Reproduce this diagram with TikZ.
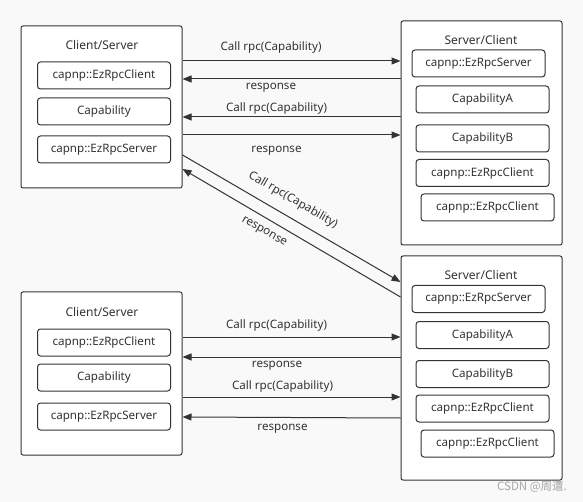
\documentclass[tikz,border=0pt]{standalone}
\usepackage{fontspec}
\setmainfont{Noto Sans}
\newfontfamily\cjk{Noto Sans CJK SC}
\usetikzlibrary{arrows.meta}
\definecolor{ink}{RGB}{51,51,51}
\definecolor{bg}{RGB}{249,249,249}
\tikzset{
  outer/.style={draw=ink,fill=white,rounded corners=2pt,line width=1pt,inner sep=0pt,minimum width=161pt},
  inner/.style={draw=ink,fill=white,rounded corners=3pt,line width=1pt,minimum width=133pt,minimum height=27pt,inner sep=0pt,text=ink,font=\fontsize{11.6}{13}\selectfont},
  title/.style={text=ink,font=\fontsize{12}{14}\selectfont},
  msg/.style={text=ink,font=\fontsize{11.6}{13}\selectfont},
  arr/.style={draw=ink,line width=1pt,-{Triangle[length=9pt,width=7pt]}}
}
\begin{document}
\begin{tikzpicture}[x=1pt,y=-1pt]
\fill[bg] (0,0) rectangle (583,502);
\useasboundingbox (0,0) rectangle (583,502);
\node[outer,minimum height=162pt] (tl) at (101.5,107) {};
\node[outer,minimum height=224pt] (tr) at (481.5,133) {};
\node[outer,minimum height=224pt] (br) at (481.5,368) {};
\node[outer,minimum height=163pt] (bl) at (101.5,373.5) {};
\node[title] (tltitle) at (102,45) {Client/Server};
\node[title] (trtitle) at (481,40) {Server/Client};
\node[title] (brtitle) at (481,275) {Server/Client};
\node[title] (bltitle) at (102,312) {Client/Server};
\foreach \n/\y/\t in {1/75.5/capnp::EzRpcClient,2/111.5/Capability,3/149.5/capnp::EzRpcServer}{\node[inner] (tl\n) at (104,\y) {\t};}
\foreach \n/\y/\t in {1/342.5/capnp::EzRpcClient,2/377.5/Capability,3/416.5/capnp::EzRpcServer}{\node[inner] (bl\n) at (104,\y) {\t};}
\foreach \n/\x/\y/\t in {1/478.5/63.5/capnp::EzRpcServer,2/482.5/99.5/CapabilityA,3/482.5/138.5/CapabilityB,4/482.5/173/capnp::EzRpcClient,5/487.5/207.5/capnp::EzRpcClient}{\node[inner] (tr\n) at (\x,\y) {\t};}
\foreach \n/\x/\y/\t in {1/478.5/299/capnp::EzRpcServer,2/482.5/335/CapabilityA,3/482.5/374/CapabilityB,4/482.5/408.5/capnp::EzRpcClient,5/487.5/443.5/capnp::EzRpcClient}{\node[inner] (br\n) at (\x,\y) {\t};}
\draw[arr] (tl.east |- 0,61) -- (tr.west |- 0,61);
\draw[arr] (tr.west |- 0,79) -- (tl.east |- 0,79);
\draw[arr] (tr.west |- 0,117) -- (tl.east |- 0,117);
\draw[arr] (tl.east |- 0,135) -- (tr.west |- 0,135);
\draw[arr] (tl.east |- 0,155) -- (br.west |- 0,282);
\draw[arr] (br.west |- 0,297) -- (tl.east |- 0,169);
\draw[arr] (bl.east |- 0,337) -- (br.west |- 0,337);
\draw[arr] (br.west |- 0,357) -- (bl.east |- 0,357);
\draw[arr] (bl.east |- 0,397) -- (br.west |- 0,397);
\draw[arr] (br.west |- 0,418) -- (bl.east |- 0,417);
\node[msg] (m1) at (271,47) {Call rpc(Capability)};
\node[msg] (m2) at (271,88) {response};
\node[msg] (m3) at (276.5,108) {Call rpc(Capability)};
\node[msg] (m4) at (276.5,151) {response};
\node[msg,rotate=-30] (m5) at (293,200) {Call rpc(Capability)};
\node[msg,rotate=-30] (m6) at (264,232) {response};
\node[msg] (m7) at (276.5,325) {Call rpc(Capability)};
\node[msg] (m8) at (277,366) {response};
\node[msg] (m9) at (282.5,386) {Call rpc(Capability)};
\node[msg] (m10) at (282.5,429) {response};
\node[text=gray!70,font=\cjk\fontsize{11.5}{13}\selectfont] (mark) at (532,487) {CSDN @周遭.};
\end{tikzpicture}
\end{document}
